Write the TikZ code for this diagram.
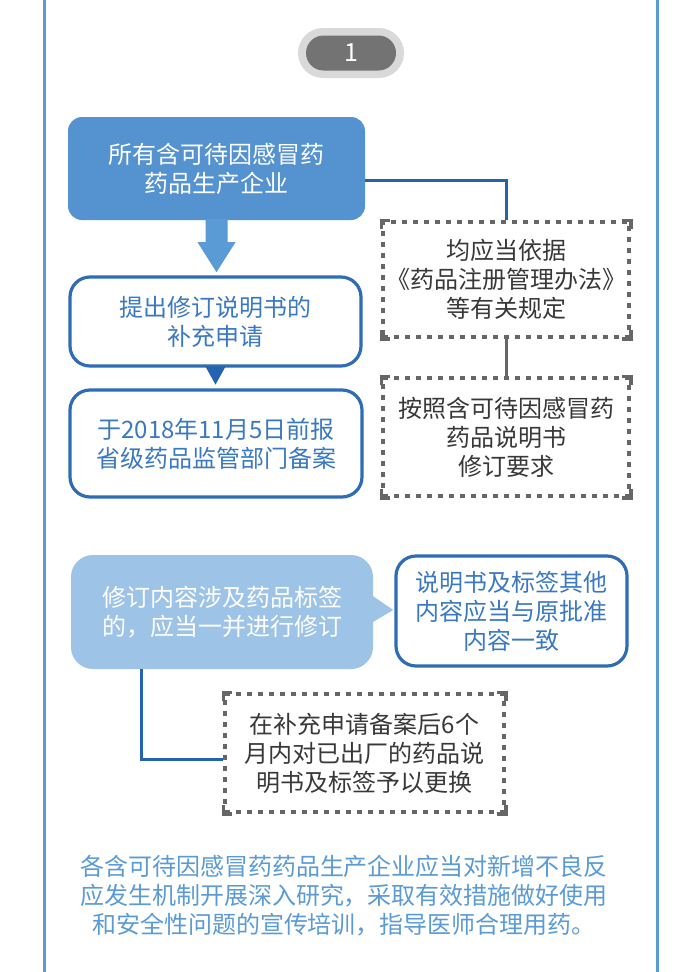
\documentclass[tikz,border=0pt]{standalone}
\usepackage{fontspec}
\newfontfamily\cjk{Noto Sans CJK SC}
\usetikzlibrary{calc}
\definecolor{frameblue}{HTML}{5B9BD5}
\definecolor{boxblue}{HTML}{5592D0}
\definecolor{lineblue}{HTML}{2E6CB5}
\definecolor{textblue}{HTML}{3A79C2}
\definecolor{darkblue}{HTML}{2563AE}
\definecolor{lightblue}{HTML}{9DC3E6}
\definecolor{dashgray}{HTML}{666666}
\definecolor{textgray}{HTML}{383838}
\definecolor{pillout}{HTML}{D9D9D9}
\definecolor{pillin}{HTML}{737373}
\tikzset{
  txt/.style={font=\cjk\fontsize{24}{29}\selectfont, align=center, inner sep=0pt},
  filledbox/.style={txt, rounded corners=14pt, fill=boxblue, text=white},
  outlinebox/.style={txt, rounded corners=20pt, draw=lineblue, line width=3.2pt, fill=white, text=textblue},
  lightbox/.style={txt, rounded corners=22pt, fill=lightblue, text=white},
  dashbox/.style={txt, draw=dashgray, line width=3.5pt, dash pattern=on 5pt off 6pt, text=textgray},
  dcorner/.style={draw=dashgray, line width=3.5pt},
  conn/.style={draw=darkblue, line width=3pt},
  gconn/.style={draw=dashgray, line width=3pt},
}
\newcommand\dcorners[1]{%
  \draw[dcorner] ($(#1.north west)+(0,9)$) -- (#1.north west) -- ($(#1.north west)+(9,0)$);
  \draw[dcorner] ($(#1.north east)+(0,9)$) -- (#1.north east) -- ($(#1.north east)+(-9,0)$);
  \draw[dcorner] ($(#1.south west)+(0,-9)$) -- (#1.south west) -- ($(#1.south west)+(9,0)$);
  \draw[dcorner] ($(#1.south east)+(0,-9)$) -- (#1.south east) -- ($(#1.south east)+(-9,0)$);
}
\begin{document}
\begin{tikzpicture}[x=1pt,y=-1pt]
\useasboundingbox[fill=white] (0,0) rectangle (700,972);
% frame
\draw[frameblue, line width=3pt] (44,-5) -- (44,977);
\draw[frameblue, line width=3pt] (657,-5) -- (657,977);
% pill
\node[fill=pillout, rounded corners=25pt, minimum width=106pt, minimum height=50pt, inner sep=0pt] (pillo) at (351,53) {};
\node[fill=pillin, rounded corners=17.5pt, minimum width=90pt, minimum height=35pt, inner sep=0pt, text=white, font=\cjk\fontsize{25}{29}\selectfont] (pill) at (351,53) {1};
% left column
\node[filledbox, minimum width=297pt, minimum height=103pt] (b1) at (216.5,168.5) {所有含可待因感冒药\\药品生产企业};
\node[outlinebox, minimum width=291pt, minimum height=89pt] (b2) at (215.5,321.5) {提出修订说明书的\\补充申请};
\node[outlinebox, minimum width=292pt, minimum height=107pt] (b3) at (216,443.5) {于2018年11月5日前报\\省级药品监管部门备案};
% right dashed column
\node[dashbox, minimum width=246pt, minimum height=115pt] (dA) at (506,279.5) {均应当依据\\《药品注册管理办法》\\等有关规定};
\node[dashbox, minimum width=246pt, minimum height=118pt] (dB) at (506,437) {按照含可待因感冒药\\药品说明书\\修订要求};
\dcorners{dA}
\dcorners{dB}
% block arrow b1 -> b2
\fill[frameblue] ($(b1.south)+(-11,-1)$) -- ($(b1.south)+(-11,22)$) -- ($(b1.south)+(-19,22)$) -- ($(b1.south)+(0,52)$) -- ($(b1.south)+(19,22)$) -- ($(b1.south)+(11,22)$) -- ($(b1.south)+(11,-1)$) -- cycle;
% small triangle b2 -> b3
\fill[darkblue] ($(b2.south)+(-10,-1)$) -- ($(b2.south)+(10,-1)$) -- ($(b2.south)+(0,17)$) -- cycle;
% connectors
\draw[conn] ($(b1.east)+(0,11.5)$) -| (dA.north);
\draw[gconn] (dA.south) -- (dB.north);
% second part
\node[lightbox, minimum width=302pt, minimum height=114pt] (b4) at (222,612) {修订内容涉及药品标签\\的，应当一并进行修订};
\fill[lightblue] ($(b4.east)+(-2,-17)$) -- ($(b4.east)+(20,-2)$) -- ($(b4.east)+(-2,11)$) -- cycle;
\node[outlinebox, minimum width=231pt, minimum height=110pt] (b5) at (511.5,611) {说明书及标签其他\\内容应当与原批准\\内容一致};
\node[dashbox, minimum width=279pt, minimum height=118pt] (dC) at (364.5,753) {在补充申请备案后6个\\月内对已出厂的药品说\\明书及标签予以更换};
\dcorners{dC}
\draw[conn] ($(b4.south)+(-81,0)$) |- ($(dC.west)+(0,6)$);
% bottom text
\node[txt, text=frameblue] (note) at (344,896) {各含可待因感冒药药品生产企业应当对新增不良反\\应发生机制开展深入研究，采取有效措施做好使用\\和安全性问题的宣传培训，指导医师合理用药。};
\end{tikzpicture}
\end{document}
